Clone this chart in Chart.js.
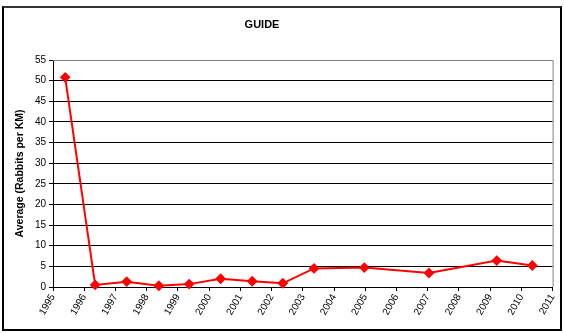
<!DOCTYPE html>
<html>
<head>
<meta charset="utf-8">
<script src="https://cdn.jsdelivr.net/npm/chart.js@4"></script>
<style>
  html, body { margin: 0; padding: 0; background: #fff; }
  #frame { position: absolute; left: 2px; top: 6px; width: 556px; height: 321px; border: 2px solid #000; border-top-color: #333; }
  #wrap { position: absolute; left: 0; top: 0; width: 564px; height: 333px; }
</style>
</head>
<body>
<div id="frame"></div>
<div id="wrap"><canvas id="chart" width="564" height="333"></canvas></div>
<script>
// survey years (fractional position as plotted on the date axis)
const years = [1995.39, 1996.35, 1997.36, 1998.39, 1999.36, 2000.37, 2001.38, 2002.36, 2003.36, 2004.97, 2007.04, 2009.21, 2010.35];
const averages = [50.8, 0.5, 1.3, 0.3, 0.7, 2.0, 1.4, 0.9, 4.5, 4.7, 3.4, 6.4, 5.2];
const yTicks = [0, 5, 10, 15, 20, 25, 30, 35, 40, 45, 50, 55];

const points = years.map((y, i) => ({ x: y, y: averages[i] }));
const FONT = 'Liberation Sans, Arial, sans-serif';

// grey top/right edges of the plot area, plus the title
const plotBox = {
  id: 'plotBox',
  afterDraw(chart) {
    const { ctx, chartArea: a } = chart;
    ctx.save();
    ctx.strokeStyle = '#808080';
    ctx.lineWidth = 1;
    ctx.beginPath();
    ctx.moveTo(a.left, a.top + 0.5);
    ctx.lineTo(a.right + 0.5, a.top + 0.5);
    ctx.lineTo(a.right + 0.5, a.bottom);
    ctx.stroke();
    ctx.fillStyle = '#000';
    ctx.font = 'bold 11px ' + FONT;
    ctx.textAlign = 'center';
    ctx.textBaseline = 'middle';
    ctx.fillText('GUIDE', 262, 25);
    ctx.restore();
  }
};

new Chart(document.getElementById('chart').getContext('2d'), {
  type: 'line',
  data: {
    datasets: [{
      data: points,
      borderColor: '#ff0000',
      backgroundColor: '#ff0000',
      borderWidth: 2,
      pointStyle: 'rectRot',
      pointRadius: 4,
      pointHoverRadius: 4,
      tension: 0,
      clip: false
    }]
  },
  options: {
    responsive: false,
    animation: false,
    layout: { padding: { top: 60, right: 11, bottom: 4, left: 14 } },
    plugins: {
      legend: { display: false },
      tooltip: { enabled: false }
    },
    scales: {
      x: {
        type: 'linear',
        min: 1995,
        max: 2011,
        afterFit: axis => { axis.height = 42; },
        ticks: {
          stepSize: 1,
          autoSkip: false,
          minRotation: 60,
          maxRotation: 60,
          color: '#000',
          padding: 1,
          font: { family: FONT, size: 10 },
          callback: v => String(v)
        },
        grid: { drawOnChartArea: false, color: '#000', tickLength: 4 },
        border: { color: '#000', width: 1 }
      },
      y: {
        min: 0,
        max: 55,
        afterBuildTicks: axis => { axis.ticks = yTicks.map(v => ({ value: v })); },
        afterFit: axis => { axis.width = 39; },
        ticks: {
          color: '#000',
          padding: 3,
          font: { family: FONT, size: 10 }
        },
        title: {
          display: true,
          text: 'Average (Rabbits per KM)',
          color: '#000',
          padding: 0,
          font: { family: FONT, size: 10.5, weight: 'bold' }
        },
        grid: { color: '#000', tickLength: 4 },
        border: { color: '#000', width: 1 }
      }
    }
  },
  plugins: [plotBox]
});
</script>
</body>
</html>
